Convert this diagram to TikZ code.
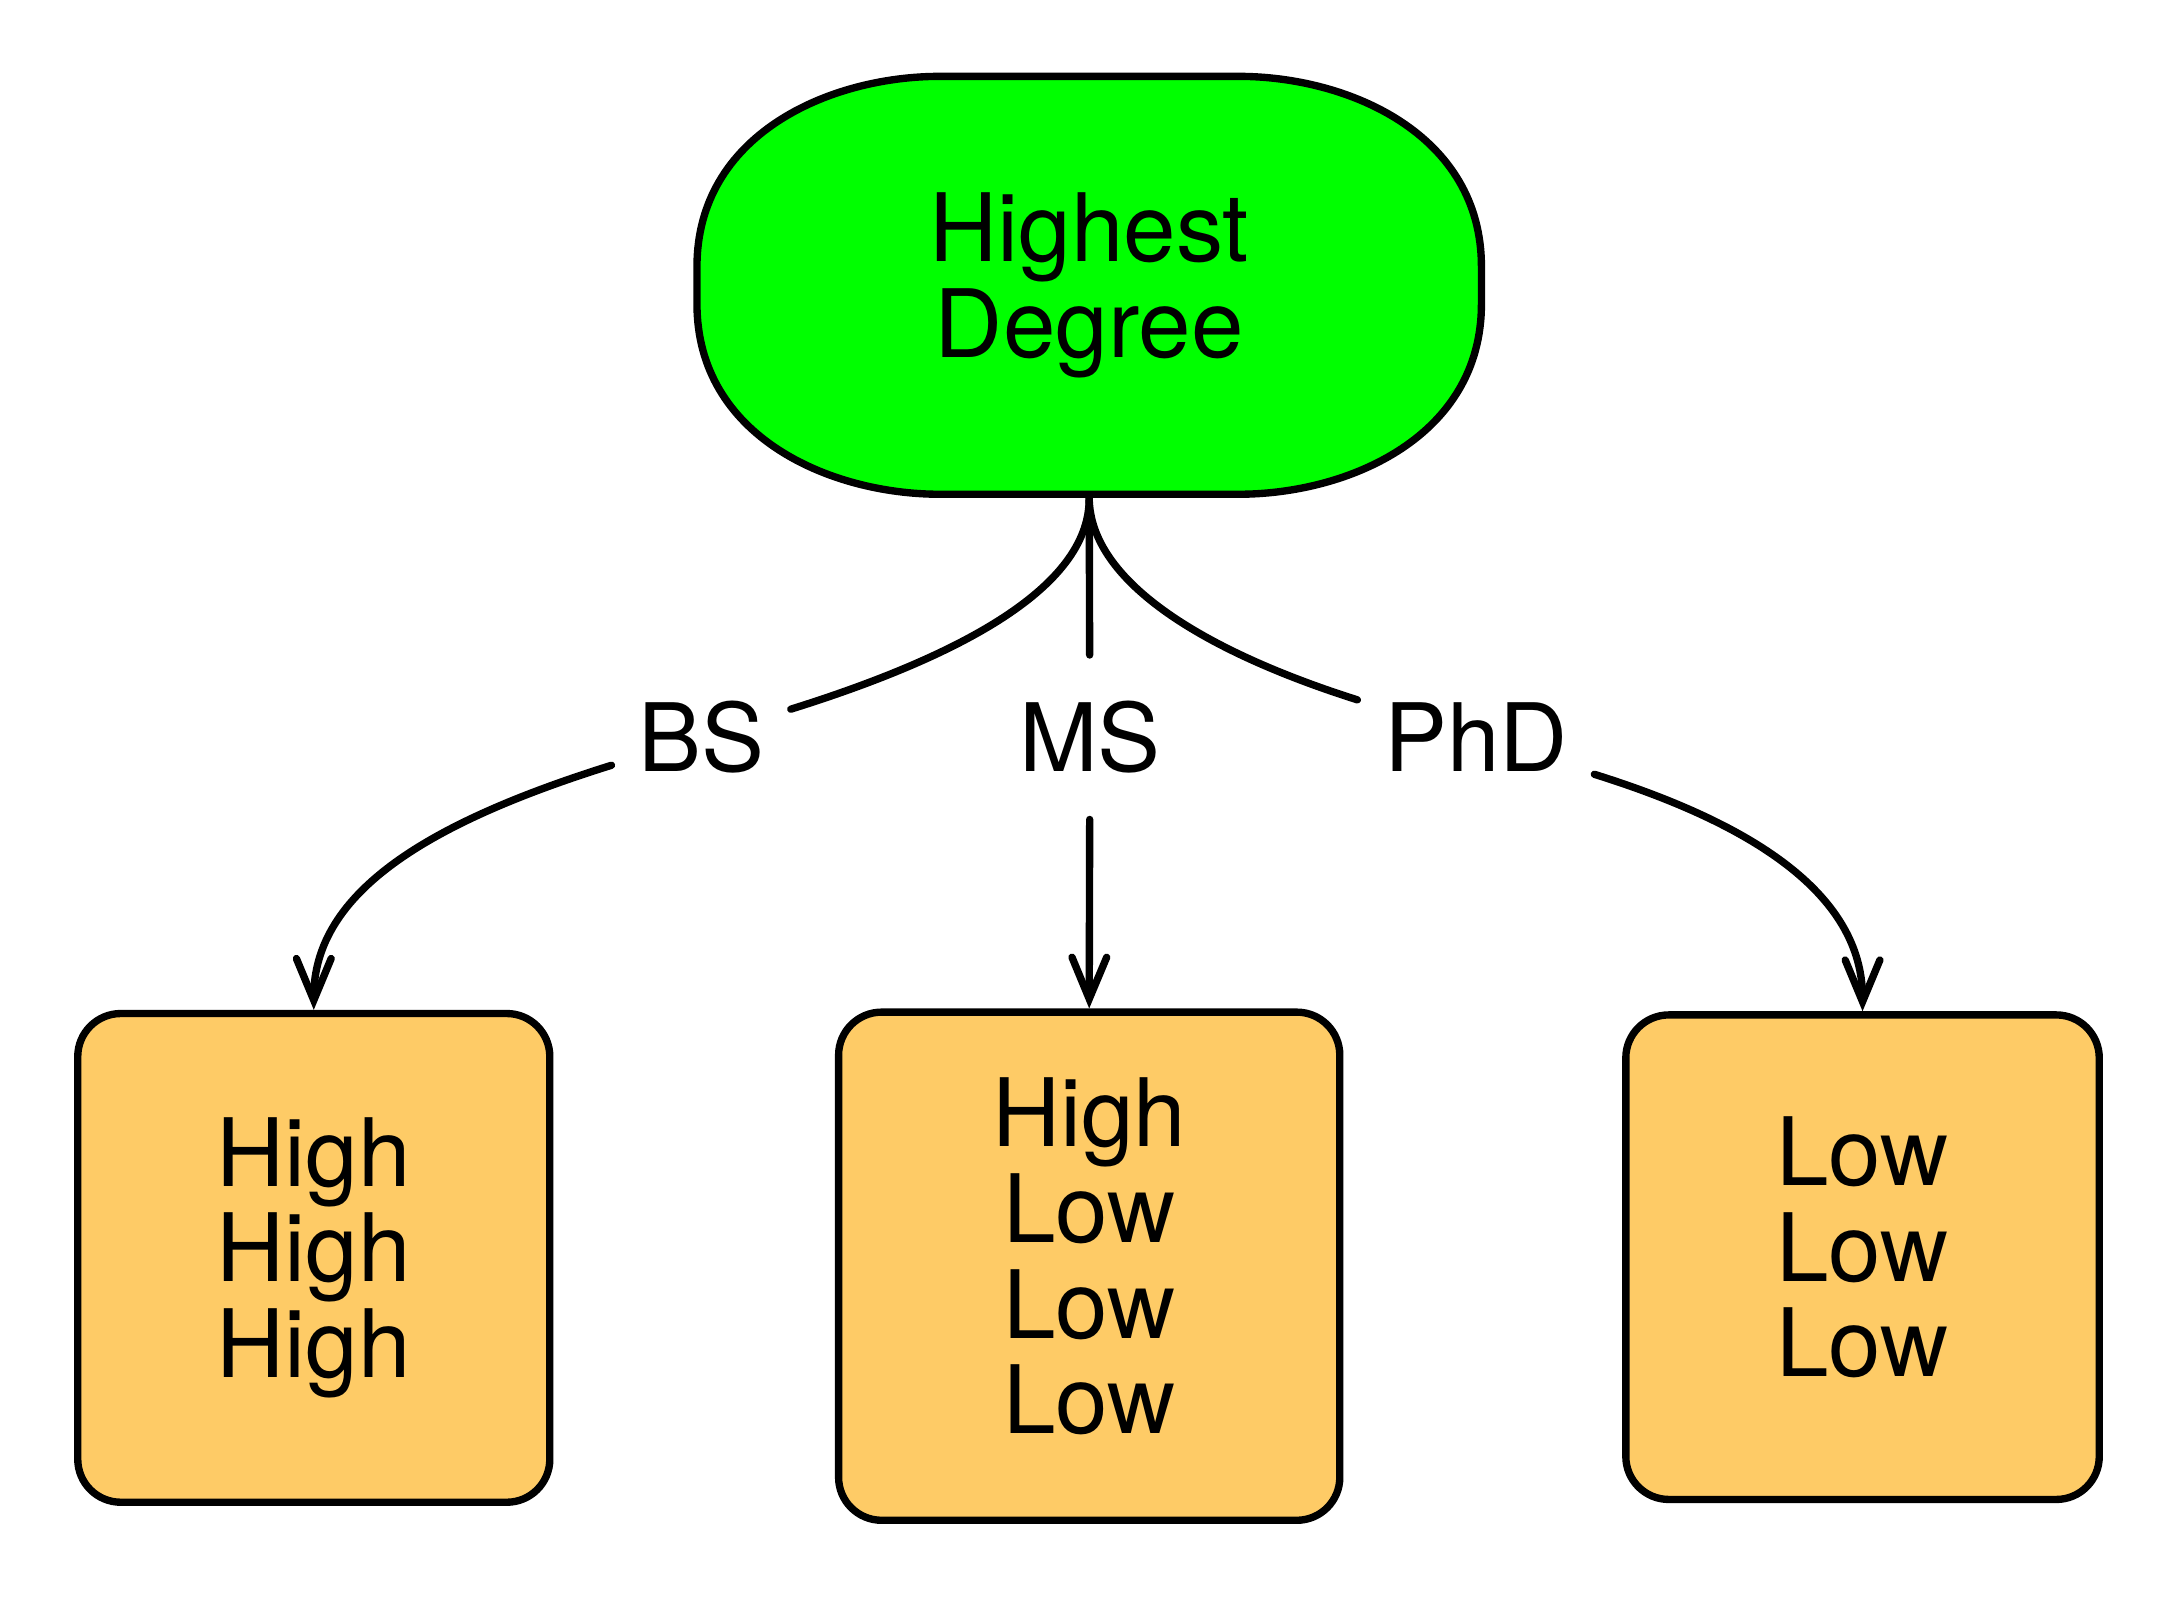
\documentclass[tikz,border=0pt]{standalone}
\usepackage{fontspec}
\setmainfont{TeX Gyre Heros}
\usetikzlibrary{arrows.meta}
\definecolor{boxorange}{RGB}{254,203,102}
\definecolor{rootgreen}{RGB}{0,255,0}
\begin{document}
\begin{tikzpicture}[x=1pt,y=1pt,
  every node/.style={font=\fontsize{68}{69}\selectfont},
  rootshape/.style={draw, fill=rootgreen, line width=5.3pt},
  rootnode/.style={minimum width=565pt, minimum height=301pt, align=center, inner sep=0pt, outer sep=2.65pt},
  leaf/.style={draw, line width=5.3pt, fill=boxorange, rounded corners=31pt, align=center, text depth=15pt, inner sep=0pt},
  edgelabel/.style={inner xsep=19pt, inner ysep=33pt},
  conn/.style={line width=5.3pt, line cap=round},
  tipconn/.style={conn, -{Straight Barb[length=30pt,width=25pt,line cap=round]}}]
\useasboundingbox (0,0) rectangle (1568,1152);

% root outline
\path[rootshape] (502,933) -- (502,960)
  .. controls (502,1055) and (597,1097) .. (677,1097) -- (892,1097)
  .. controls (972,1097) and (1067,1055) .. (1067,960) -- (1067,933)
  .. controls (1067,838) and (972,796) .. (892,796) -- (677,796)
  .. controls (597,796) and (502,838) .. (502,933) -- cycle;
\node[rootnode] (root) at (784.5,946.5) {Highest\\Degree};

% leaves
\node[leaf, minimum width=340pt, minimum height=352pt] (lb) at (226,246) {High\\High\\High};
\node[leaf, minimum width=361pt, minimum height=366pt] (mb) at (784.5,240) {High\\Low\\Low\\Low};
\node[leaf, minimum width=341pt, minimum height=349pt] (rb) at (1341.5,246.5) {Low\\Low\\Low};

% edge labels
\node[edgelabel] (bs) at (505,621) {BS};
\node[edgelabel] (ms) at (785,621) {MS};
\node[edgelabel] (phd) at (1063,621) {PhD};

% connectors
\draw[conn] (root.south) .. controls (785,732) and (700,682) .. (bs);
\draw[tipconn] (bs) .. controls (310,560) and (226,510) .. (lb.north);
\draw[conn] (root.south) -- (ms);
\draw[tipconn] (ms) -- (mb.north);
\draw[conn] (root.south) .. controls (785,732) and (870,682) .. (phd);
\draw[tipconn] (phd) .. controls (1258,560) and (1341.5,510) .. (rb.north);
\end{tikzpicture}
\end{document}
